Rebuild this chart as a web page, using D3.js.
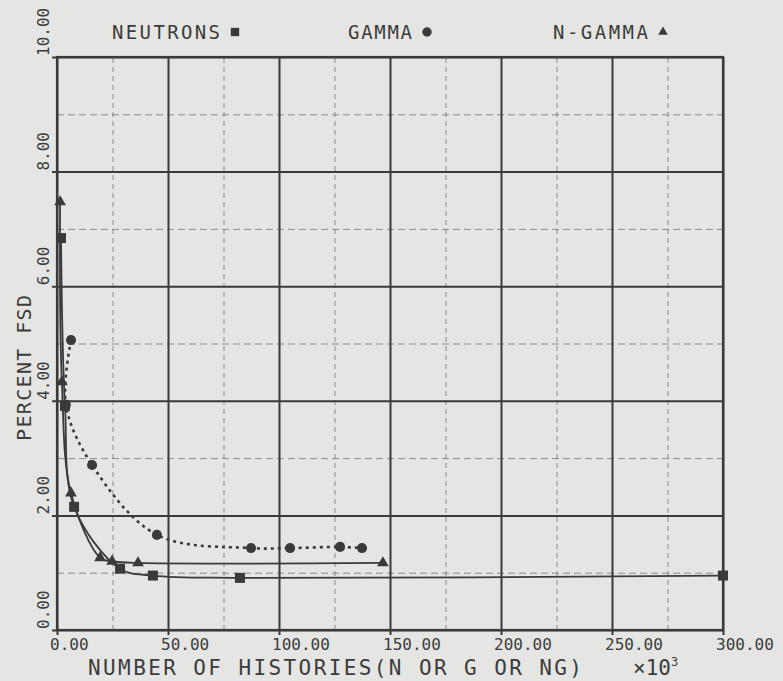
<!DOCTYPE html>
<html>
<head>
<meta charset="utf-8">
<script src="https://cdn.jsdelivr.net/npm/d3@7"></script>
<style>
  body { margin: 0; background: #e5e5e3; }
  svg { display: block; }
  text { font-family: "DejaVu Sans Mono", monospace; fill: #3c3c3c; }
</style>
</head>
<body>
<svg id="chart"></svg>
<script>
// ---- data ----
const xMajor = [0, 50, 100, 150, 200, 250, 300];
const xMinor = [25, 75, 125, 175, 225, 275];
const yMajor = [0, 2, 4, 6, 8, 10];
const yMinor = [1, 3, 5, 7, 9];
const xTickLabels = ['0.00', '50.00', '100.00', '150.00', '200.00', '250.00', '300.00'];
const yTickLabels = ['0.00', '2.00', '4.00', '6.00', '8.00', '10.00'];

const seriesNames = ['NEUTRONS', 'GAMMA', 'N-GAMMA'];

const neutronsX = [1.8, 3.6, 7.7, 28.4, 43.2, 82.4, 300];
const neutronsY = [6.84, 3.91, 2.15, 1.07, 0.95, 0.91, 0.95];

const gammaX = [6.3, 4.0, 15.8, 45.0, 87.4, 105.0, 127.5, 137.4];
const gammaY = [5.06, 3.93, 2.88, 1.66, 1.43, 1.43, 1.45, 1.43];

const ngammaX = [1.4, 2.2, 6.3, 19.4, 24.8, 36.5, 146.8];
const ngammaY = [7.47, 4.33, 2.39, 1.26, 1.20, 1.17, 1.17];

const xTitle = 'NUMBER OF HISTORIES(N OR G OR NG)';
const yTitle = 'PERCENT FSD';

// ---- layout ----
const width = 783, height = 681;
const margin = {top: 57, right: 60, bottom: 51, left: 57};
const ink = '#3a3a3a';

const svg = d3.select('#chart').attr('width', width).attr('height', height);
svg.append('rect').attr('width', width).attr('height', height).attr('fill', '#e5e5e3');

const xscale = d3.scaleLinear().domain([0, 300]).range([margin.left, width - margin.right]);
const yscale = d3.scaleLinear().domain([0, 10]).range([height - margin.bottom, margin.top]);

const x0 = xscale(0), x1 = xscale(300), y0 = yscale(0), y1 = yscale(10);

// minor grid (dashed)
svg.append('g')
    .attr('transform', `translate(0, ${y0})`)
    .call(d3.axisBottom(xscale).tickValues(xMinor).tickSize(-(y0 - y1)).tickFormat(''))
    .call(g => g.select('.domain').remove())
    .call(g => g.selectAll('line').attr('stroke', '#777').attr('stroke-width', 1)
        .attr('stroke-dasharray', '5,4').attr('opacity', 0.8));

svg.append('g')
    .attr('transform', `translate(${x0}, 0)`)
    .call(d3.axisLeft(yscale).tickValues(yMinor).tickSize(-(x1 - x0)).tickFormat(''))
    .call(g => g.select('.domain').remove())
    .call(g => g.selectAll('line').attr('stroke', '#777').attr('stroke-width', 1)
        .attr('stroke-dasharray', '7,4').attr('opacity', 0.8));

// major grid (solid), ticks poke a little outside the frame
svg.append('g')
    .attr('transform', `translate(0, ${y0 + 5})`)
    .call(d3.axisBottom(xscale).tickValues(xMajor).tickSize(-(y0 - y1 + 5)).tickFormat(''))
    .call(g => g.select('.domain').remove())
    .call(g => g.selectAll('line').attr('stroke', ink).attr('stroke-width', 2));

svg.append('g')
    .attr('transform', `translate(${x0 - 5}, 0)`)
    .call(d3.axisLeft(yscale).tickValues(yMajor).tickSize(-(x1 - x0 + 5)).tickFormat(''))
    .call(g => g.select('.domain').remove())
    .call(g => g.selectAll('line').attr('stroke', ink).attr('stroke-width', 2));

// frame
svg.append('rect')
    .attr('x', x0).attr('y', y1)
    .attr('width', x1 - x0).attr('height', y0 - y1)
    .attr('fill', 'none').attr('stroke', ink).attr('stroke-width', 2.2);

// tick labels
svg.selectAll('text.xtick')
    .data(xMajor)
    .join('text')
    .attr('class', 'xtick')
    .attr('x', d => xscale(d) - 7)
    .attr('y', y0 + 20)
    .attr('font-size', 16)
    .text((d, i) => xTickLabels[i]);

svg.selectAll('text.ytick')
    .data(yMajor)
    .join('text')
    .attr('class', 'ytick')
    .attr('transform', d => `translate(${x0 - 8}, ${yscale(d) - 1}) rotate(-90)`)
    .attr('font-size', 16)
    .text((d, i) => yTickLabels[i]);

// axis titles
svg.append('text')
    .attr('x', 88).attr('y', y0 + 45)
    .attr('font-size', 21)
    .attr('textLength', 494).attr('lengthAdjust', 'spacing')
    .text(xTitle);

const mult = svg.append('text')
    .attr('x', 633).attr('y', y0 + 45)
    .attr('font-size', 21);
mult.append('tspan').text('\u00d710');
mult.append('tspan').attr('font-size', 12).attr('dy', -9).text('3');

svg.append('text')
    .attr('transform', `translate(31, 441) rotate(-90)`)
    .attr('font-size', 20)
    .attr('textLength', 146).attr('lengthAdjust', 'spacing')
    .text(yTitle);

// series
const series = [
    {name: seriesNames[0], xs: neutronsX, ys: neutronsY, marker: 'square', dash: null},
    {name: seriesNames[1], xs: gammaX, ys: gammaY, marker: 'circle', dash: '3,4'},
    {name: seriesNames[2], xs: ngammaX, ys: ngammaY, marker: 'triangle', dash: null}
];
const symbolType = {square: d3.symbolSquare, circle: d3.symbolCircle, triangle: d3.symbolTriangle};
const symbolSize = {square: 100, circle: 80, triangle: 60};

const line = d3.line()
    .x(d => xscale(d[0]))
    .y(d => yscale(d[1]))
    .curve(d3.curveCatmullRom.alpha(0.5));

const drawOrder = [1, 2, 0];
drawOrder.forEach(k => {
    const s = series[k];
    const pts = s.xs.map((v, i) => [v, s.ys[i]]);
    svg.append('path')
        .attr('d', line(pts))
        .attr('fill', 'none')
        .attr('stroke', ink)
        .attr('stroke-width', s.dash ? 2.6 : 1.8)
        .attr('stroke-dasharray', s.dash);
    svg.selectAll(null)
        .data(pts)
        .join('path')
        .attr('transform', d => `translate(${xscale(d[0])}, ${yscale(d[1])})`)
        .attr('d', d3.symbol().type(symbolType[s.marker]).size(symbolSize[s.marker]))
        .attr('fill', ink);
});

// legend across the top
const legendX = [112, 348, 553];
const legendLen = [108, 64, 95];
series.forEach((s, i) => {
    svg.append('text')
        .attr('x', legendX[i]).attr('y', 39)
        .attr('font-size', 19)
        .attr('textLength', legendLen[i]).attr('lengthAdjust', 'spacing')
        .text(s.name);
    svg.append('path')
        .attr('transform', `translate(${legendX[i] + legendLen[i] + 15}, 32)`)
        .attr('d', d3.symbol().type(symbolType[s.marker]).size(s.marker === 'triangle' ? 40 : 70))
        .attr('fill', ink);
});
</script>
</body>
</html>
